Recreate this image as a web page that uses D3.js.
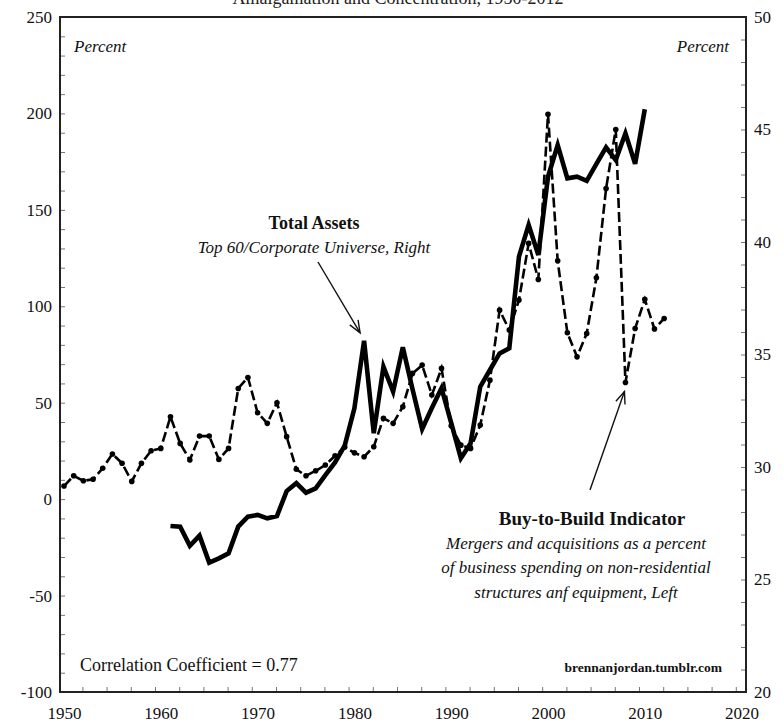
<!DOCTYPE html>
<html>
<head>
<meta charset="utf-8">
<script src="https://cdn.jsdelivr.net/npm/d3@7"></script>
<style>
  body { margin: 0; background: #fff; }
  svg { display: block; font-family: "Liberation Serif", "DejaVu Serif", serif; }
</style>
</head>
<body>
<div id="chart"></div>
<script>
// Buy-to-Build indicator (left axis, percent), 1950-2012
const btbYears = d3.range(1950, 2013);
const btbValues = [
  6.8, 12.1, 9.5, 10.3, 16.0, 23.4, 18.6, 9.2, 18.6, 25.1,
  26.3, 42.7, 28.9, 20.3, 32.7, 32.7, 20.6, 26.3, 57.4, 63.1,
  44.8, 39.3, 50.0, 32.4, 15.5, 12.1, 14.7, 17.7, 22.5, 27.0,
  24.0, 22.0, 27.2, 41.9, 39.3, 47.9, 65.2, 69.5, 54.0, 67.8,
  38.0, 28.0, 26.3, 38.4, 61.7, 98.0, 87.7, 103.2, 132.6, 113.9,
  199.6, 123.6, 86.3, 73.8, 85.9, 114.8, 161.1, 191.7, 60.5, 88.5,
  103.6, 88.2, 93.7
];

// Total assets, top 60 / corporate universe (right axis, percent), 1961-2010
const assetYears = d3.range(1961, 2011);
const assetValues = [
  27.38, 27.35, 26.5, 26.95, 25.75, 25.94, 26.16, 27.35, 27.79, 27.87,
  27.72, 27.82, 28.93, 29.28, 28.86, 29.05, 29.64, 30.2, 30.95, 32.61,
  35.61, 31.5, 34.46, 33.35, 35.32, 33.47, 31.69, 32.62, 33.5, 31.96,
  30.39, 31.05, 33.57, 34.31, 35.05, 35.28, 39.35, 40.76, 39.42, 42.9,
  44.31, 42.83, 42.9, 42.72, 43.47, 44.21, 43.64, 44.83, 43.47, 45.9
];

const leftTicks = [-100, -50, 0, 50, 100, 150, 200, 250];
const rightTicks = [20, 25, 30, 35, 40, 45, 50];
const yearTicks = [1950, 1960, 1970, 1980, 1990, 2000, 2010, 2020];

const btb = btbYears.map((y, i) => ({ year: y, value: btbValues[i] }));
const assets = assetYears.map((y, i) => ({ year: y, value: assetValues[i] }));

const W = 783, H = 725;
const frame = { left: 60, right: 746, top: 17, bottom: 692 };

const svg = d3.select("#chart").append("svg")
  .attr("width", W)
  .attr("height", H);

svg.append("rect").attr("width", W).attr("height", H).attr("fill", "#fff");

const x = d3.scaleLinear().domain([1950, 2020]).range([64, 741.6]);
const yLeft = d3.scaleLinear().domain([-100, 250]).range([frame.bottom, frame.top]);
const yRight = d3.scaleLinear().domain([20, 50]).range([frame.bottom, frame.top]);

// Title (cut off at the top edge as in the source)
svg.append("text")
  .attr("x", 398)
  .attr("y", 4)
  .attr("text-anchor", "middle")
  .style("font-size", "18px")
  .attr("fill", "#222")
  .text("Amalgamation and Concentration, 1950-2012");

// Minor inner ticks
svg.append("g")
  .attr("class", "minor")
  .attr("transform", `translate(${frame.left},0)`)
  .call(d3.axisRight(yLeft).tickValues(d3.range(-100, 251, 10)).tickSize(5).tickFormat(""));

svg.append("g")
  .attr("class", "minor")
  .attr("transform", `translate(${frame.right},0)`)
  .call(d3.axisLeft(yRight).tickValues(d3.range(20, 51, 1)).tickSize(5).tickFormat(""));

svg.append("g")
  .attr("class", "minor")
  .attr("transform", `translate(0,${frame.bottom})`)
  .call(d3.axisTop(x).tickValues(d3.range(1951.9, 2020, 2.5)).tickSize(5).tickFormat(""));

svg.selectAll(".minor .domain").remove();
svg.selectAll(".minor line").attr("stroke", "#777").attr("stroke-width", 1);

// Labelled axes
const leftAxis = svg.append("g")
  .attr("transform", `translate(${frame.left - 6},0)`)
  .call(d3.axisLeft(yLeft).tickValues(leftTicks).tickSize(0).tickPadding(2).tickFormat(d => String(d)));

const rightAxis = svg.append("g")
  .attr("transform", `translate(${frame.right + 6},0)`)
  .call(d3.axisRight(yRight).tickValues(rightTicks).tickSize(0).tickPadding(2).tickFormat(d => String(d)));

const bottomAxis = svg.append("g")
  .attr("transform", `translate(0,${frame.bottom})`)
  .call(d3.axisBottom(x).tickValues(yearTicks).tickSize(0).tickPadding(15).tickFormat(d => String(d)));

[leftAxis, rightAxis, bottomAxis].forEach(g => {
  g.select(".domain").remove();
  g.selectAll("text")
    .style("font-family", "'Liberation Serif', serif")
    .style("font-size", "17px")
    .attr("fill", "#111");
});

// Frame
svg.append("rect")
  .attr("x", frame.left)
  .attr("y", frame.top)
  .attr("width", frame.right - frame.left)
  .attr("height", frame.bottom - frame.top)
  .attr("fill", "none")
  .attr("stroke", "#222")
  .attr("stroke-width", 2);

// Buy-to-Build line (dashed with dots)
const lineLeft = d3.line()
  .x(d => x(d.year))
  .y(d => yLeft(d.value));

svg.append("path")
  .datum(btb)
  .attr("d", lineLeft)
  .attr("fill", "none")
  .attr("stroke", "#000")
  .attr("stroke-width", 2.6)
  .attr("stroke-dasharray", "10,4");

svg.selectAll(".btb-dot")
  .data(btb)
  .enter()
  .append("circle")
  .attr("class", "btb-dot")
  .attr("cx", d => x(d.year))
  .attr("cy", d => yLeft(d.value))
  .attr("r", 2.8)
  .attr("fill", "#000");

// Total assets line (solid, thick)
const lineRight = d3.line()
  .x(d => x(d.year))
  .y(d => yRight(d.value));

svg.append("path")
  .datum(assets)
  .attr("d", lineRight)
  .attr("fill", "none")
  .attr("stroke", "#000")
  .attr("stroke-width", 4.6)
  .attr("stroke-linejoin", "miter");

// Annotation arrows
function arrow(x1, y1, x2, y2) {
  const a = Math.atan2(y2 - y1, x2 - x1);
  const len = 13, spread = 0.38;
  svg.append("line")
    .attr("x1", x1).attr("y1", y1).attr("x2", x2).attr("y2", y2)
    .attr("stroke", "#111").attr("stroke-width", 1.4);
  svg.append("path")
    .attr("d", `M${x2 - len * Math.cos(a - spread)},${y2 - len * Math.sin(a - spread)}
                L${x2},${y2}
                L${x2 - len * Math.cos(a + spread)},${y2 - len * Math.sin(a + spread)}`)
    .attr("fill", "none")
    .attr("stroke", "#111")
    .attr("stroke-width", 1.4);
}

arrow(318, 262, x(1981) - 4, yRight(assetValues[assetYears.indexOf(1981)]) - 8);
arrow(590, 490, x(2008) - 1, yLeft(btbValues[btbYears.indexOf(2008)]) + 9);

// Texts
function label(txt, xPos, yPos, opts) {
  svg.append("text")
    .attr("x", xPos)
    .attr("y", yPos)
    .attr("text-anchor", opts.anchor || "start")
    .style("font-size", opts.size + "px")
    .style("font-style", opts.italic ? "italic" : "normal")
    .style("font-weight", opts.bold ? "bold" : "normal")
    .attr("fill", "#111")
    .text(txt);
}

label("Percent", 74, 52, { size: 17, italic: true });
label("Percent", 729, 52, { size: 17, italic: true, anchor: "end" });

label("Total Assets", 314, 229, { size: 18, bold: true, anchor: "middle" });
label("Top 60/Corporate Universe, Right", 314, 253, { size: 17, italic: true, anchor: "middle" });

label("Buy-to-Build Indicator", 592, 525, { size: 19, bold: true, anchor: "middle" });
label("Mergers and acquisitions as a percent", 576, 549, { size: 17, italic: true, anchor: "middle" });
label("of business spending on non-residential", 576, 573, { size: 17, italic: true, anchor: "middle" });
label("structures anf equipment, Left", 576, 598, { size: 17, italic: true, anchor: "middle" });

label("Correlation Coefficient = 0.77", 80, 671, { size: 18 });
label("brennanjordan.tumblr.com", 722, 672, { size: 13.5, bold: true, anchor: "end" });
</script>
</body>
</html>
